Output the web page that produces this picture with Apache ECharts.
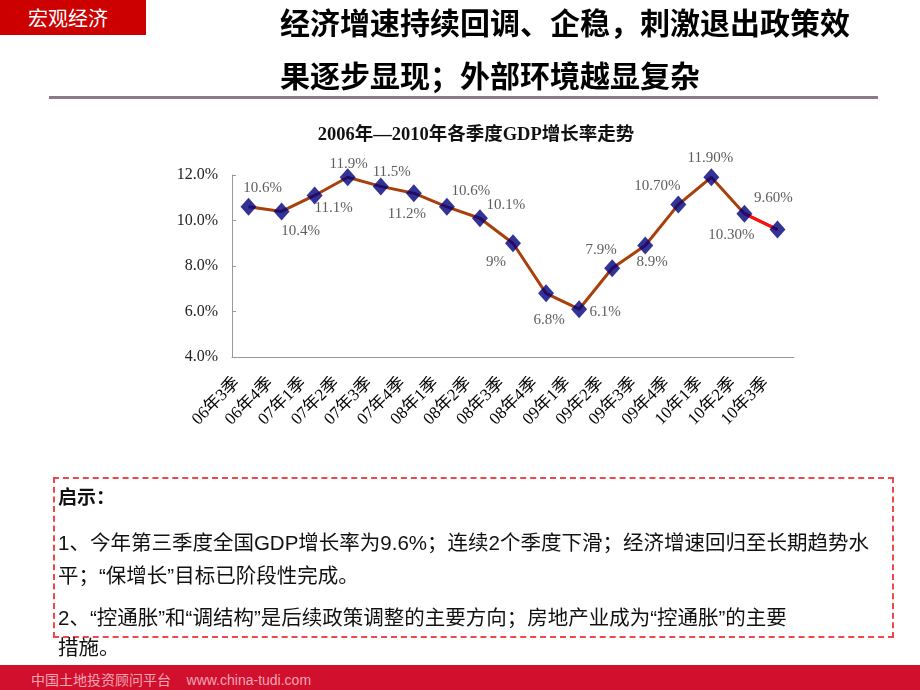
<!DOCTYPE html>
<html>
<head>
<meta charset="utf-8">
<script src="https://cdn.jsdelivr.net/npm/echarts@6/dist/echarts.min.js"></script>
<style>
  html, body { margin: 0; padding: 0; background: #fff; }
  body { width: 920px; height: 690px; position: relative; overflow: hidden;
         font-family: "Liberation Sans", "Noto Sans CJK SC", sans-serif; }
  #chart { position: absolute; left: 0; top: 0; width: 920px; height: 690px; }
  .abs { position: absolute; white-space: nowrap; }
  .tag { left: 0; top: 0; width: 146px; height: 35px; background: #cc0000; color: #fff;
         font-size: 20px; line-height: 35px; text-indent: 28px; font-family: "Noto Sans CJK SC", sans-serif; }
  .head { left: 280px; font-size: 30px; font-weight: bold; color: #000; font-family: "Noto Sans CJK SC", sans-serif; }
  .sep { left: 49px; top: 96px; width: 829px; height: 3px; background: #8a7a8c; }
  .box { left: 53px; top: 477px; width: 837px; height: 157px; border: 2px dashed #f04848; }
  .txt { left: 58px; font-size: 20.5px; color: #111; }
  .foot { left: 0; top: 665px; width: 920px; height: 25px; background: #d0102c; }
  .foot span { position: absolute; left: 31px; top: 4px; color: #f4a6b6; font-size: 14px; }
</style>
</head>
<body>
<div id="chart"></div>
<div class="abs tag">宏观经济</div>
<div class="abs head" style="top:-1px">经济增速持续回调、企稳，刺激退出政策效</div>
<div class="abs head" style="top:52px">果逐步显现；外部环境越显复杂</div>
<div class="abs sep"></div>
<div class="abs box"></div>
<div class="abs txt" style="top:482px;font-weight:bold;font-size:19px">启示：</div>
<div class="abs txt" style="top:526px">1、今年第三季度全国GDP增长率为9.6%；连续2个季度下滑；经济增速回归至长期趋势水</div>
<div class="abs txt" style="top:559px">平；“保增长”目标已阶段性完成。</div>
<div class="abs txt" style="top:601px">2、“控通胀”和“调结构”是后续政策调整的主要方向；房地产业成为“控通胀”的主要</div>
<div class="abs txt" style="top:631px">措施。</div>
<div class="abs foot"><span>中国土地投资顾问平台&nbsp;&nbsp;&nbsp;&nbsp;www.china-tudi.com</span></div>
<script>
const quarters = ['06年3季', '06年4季', '07年1季', '07年2季', '07年3季', '07年4季', '08年1季', '08年2季',
  '08年3季', '08年4季', '09年1季', '09年2季', '09年3季', '09年4季', '10年1季', '10年2季', '10年3季']
const gdpRate = [10.6, 10.4, 11.1, 11.9, 11.5, 11.2, 10.6, 10.1, 9, 6.8, 6.1, 7.9, 8.9, 10.7, 11.9, 10.3, 9.6]
const labelText = ['10.6%', '10.4%', '11.1%', '11.9%', '11.5%', '11.2%', '10.6%', '10.1%', '9%', '6.8%',
  '6.1%', '7.9%', '8.9%', '10.70%', '11.90%', '10.30%', '9.60%']
// 标签相对数据点的偏移
const labelOffset = [[14, -19], [19, 20], [19, 13], [1, -13], [11, -14], [-7, 21], [24, -16], [26, -13],
  [-17, 19], [3, 27], [26, 3], [-11, -18], [7, 17], [-21, -19], [-1, -19], [-13, 21], [-4, -32]]
const yTicks = [4, 6, 8, 10, 12]

const SERIF = '"Liberation Serif", "Noto Sans CJK SC", serif'
const LINE_BROWN = '#a8400c'
const LINE_RED = '#ff1010'
const MARK_NAVY = '#00007a'

const lastTwo = gdpRate.map((v, i) => (i >= gdpRate.length - 2 ? v : '-'))

const chart = echarts.init(document.getElementById('chart'))
chart.setOption({
  animation: false,
  title: {
    text: '2006年—2010年各季度GDP增长率走势',
    left: 471, top: 121, textAlign: 'center',
    textStyle: { fontFamily: SERIF, fontSize: 18.5, fontWeight: 'bold', color: '#111' },
  },
  grid: { left: 232, top: 175, width: 562, height: 182 },
  xAxis: {
    type: 'category',
    data: quarters,
    boundaryGap: true,
    axisLine: { lineStyle: { color: '#999' } },
    axisTick: { inside: true, length: 5, lineStyle: { color: '#999' } },
    axisLabel: {
      rotate: 45, margin: 12, padding: [0, 16, 0, 0],
      fontFamily: SERIF, fontSize: 17, color: '#000', interval: 0,
    },
  },
  yAxis: {
    type: 'value',
    min: yTicks[0], max: yTicks[yTicks.length - 1], interval: 2,
    axisLine: { show: true, lineStyle: { color: '#999' } },
    axisTick: { show: true, inside: true, length: 4, lineStyle: { color: '#999' } },
    splitLine: { show: false },
    axisLabel: { margin: 14, fontFamily: SERIF, fontSize: 16, color: '#222', formatter: v => v.toFixed(1) + '%' },
  },
  series: [
    {
      type: 'line', data: gdpRate, z: 2, showSymbol: false, silent: true,
      lineStyle: { color: LINE_BROWN, width: 3 },
    },
    {
      type: 'line', data: lastTwo, z: 3, showSymbol: false, silent: true,
      lineStyle: { color: LINE_RED, width: 3 },
    },
    {
      type: 'scatter', z: 4, symbol: 'diamond', symbolSize: [16, 18],
      itemStyle: { color: MARK_NAVY },
      data: gdpRate.map((v, i) => ({
        value: v,
        label: { offset: labelOffset[i], formatter: labelText[i] },
      })),
      label: {
        show: true, position: 'inside', align: 'center', verticalAlign: 'middle',
        fontFamily: SERIF, fontSize: 15, color: '#333',
      },
    },
  ],
})
</script>
</body>
</html>
